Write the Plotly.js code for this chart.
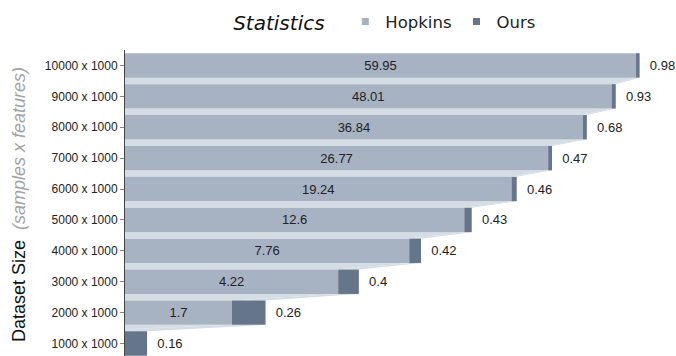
<!DOCTYPE html>
<html>
<head>
<meta charset="utf-8">
<script src="https://cdn.plot.ly/plotly-3.0.1.min.js"></script>
<style>
  html, body { margin: 0; padding: 0; overflow: hidden; background: #fff; }
  #chart { width: 676px; height: 359px; }
</style>
</head>
<body>
<div id="chart"></div>
<script>
// Dataset sizes (samples x features), largest first
const datasetSizes = [
  "10000 x 1000", "9000 x 1000", "8000 x 1000", "7000 x 1000", "6000 x 1000",
  "5000 x 1000", "4000 x 1000", "3000 x 1000", "2000 x 1000", "1000 x 1000"
];
// Runtime statistics for each method
const hopkinsValues = [59.95, 48.01, 36.84, 26.77, 19.24, 12.6, 7.76, 4.22, 1.7, 0.5];
const oursValues    = [0.98, 0.93, 0.68, 0.47, 0.46, 0.43, 0.42, 0.4, 0.26, 0.16];

const hopkinsColor = "#a7b3c3";
const oursColor = "#66768a";
const connectorColor = "#d4dce4";

const labelFont = { family: "Liberation Sans, Arial, sans-serif", size: 13, color: "#222" };
const NBSP = "\u00a0";

const traces = [
  {
    type: "funnel",
    name: "Hopkins",
    y: datasetSizes,
    x: hopkinsValues,
    text: hopkinsValues.map(String),
    textinfo: "text",
    textposition: "inside",
    insidetextanchor: "middle",
    textfont: labelFont,
    marker: { color: hopkinsColor, line: { width: 0 } },
    connector: { fillcolor: connectorColor, line: { width: 0 } },
    showlegend: false,
    cliponaxis: false
  },
  {
    type: "funnel",
    name: "Ours",
    y: datasetSizes,
    x: oursValues,
    // small lead-in so the outside labels sit clear of the bar ends
    text: oursValues.map(v => NBSP + NBSP + String(v)),
    textinfo: "text",
    textposition: "outside",
    textfont: labelFont,
    marker: { color: oursColor, line: { width: 0 } },
    connector: { fillcolor: connectorColor, line: { width: 0 } },
    showlegend: false,
    cliponaxis: false
  },
  // legend entries with small square swatches
  {
    type: "scatter", mode: "markers", name: "Hopkins",
    x: [null], y: [null],
    marker: { symbol: "square", size: 7, color: hopkinsColor }
  },
  {
    type: "scatter", mode: "markers", name: "Ours",
    x: [null], y: [null],
    marker: { symbol: "square", size: 7, color: oursColor }
  }
];

const layout = {
  width: 676,
  height: 359,
  margin: { l: 125, r: 0, t: 50, b: 0 },
  paper_bgcolor: "#fff",
  plot_bgcolor: "#fff",
  funnelmode: "stack",
  funnelgap: 0.21,
  showlegend: true,
  legend: {
    orientation: "h",
    x: 0.474,
    xanchor: "center",
    y: 1.09,
    yanchor: "middle",
    font: { family: "DejaVu Sans, sans-serif", size: 16.5, color: "#222" },
    title: {
      text: "<i>Statistics</i>" + NBSP + NBSP,
      font: { family: "DejaVu Sans, sans-serif", size: 20, color: "#111" }
    },
    itemwidth: 30
  },
  xaxis: {
    type: "log",
    range: [-0.5695, 1.629],
    visible: false
  },
  yaxis: {
    autorange: "reversed",
    showline: true,
    linecolor: "#444",
    linewidth: 1,
    ticks: "outside",
    ticklen: 4,
    tickcolor: "#888",
    tickfont: { family: "Liberation Sans, Arial, sans-serif", size: 12, color: "#222" },
    title: {
      text: "Dataset Size  <span style='color:#a3a3a3'><i>(samples x features)</i></span>",
      font: { family: "Liberation Sans, Arial, sans-serif", size: 18, color: "#111" },
      standoff: 14
    },
    automargin: false
  }
};

Plotly.newPlot("chart", traces, layout, { displayModeBar: false, staticPlot: true });
</script>
</body>
</html>
